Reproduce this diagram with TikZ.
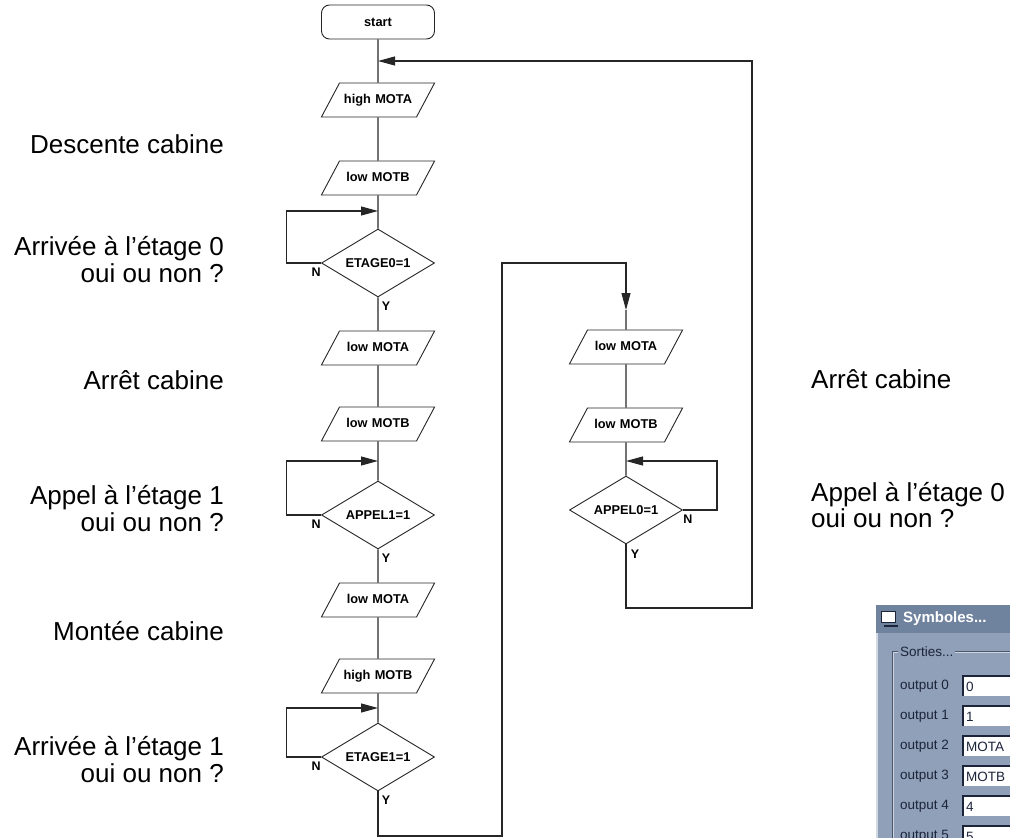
\documentclass[tikz,border=0pt]{standalone}
\usepackage{fontspec}
\setmainfont{Liberation Sans}
\usetikzlibrary{shapes.geometric,arrows.meta}

\definecolor{panelblue}{RGB}{143,160,184}
\definecolor{paneltitle}{RGB}{112,131,158}
\definecolor{panelink}{RGB}{28,36,58}

\begin{document}
\begin{tikzpicture}[x=1pt,y=-1pt,
  flowline/.style={draw=black!85,line width=1.1pt},
  flowarrow/.style={flowline,-{Triangle[length=17pt,width=9pt]}},
  shapebox/.style={draw=black!85,line width=0.9pt,fill=white,font=\fontsize{12.8}{14}\selectfont\bfseries,inner sep=0pt},
  startnode/.style={shapebox,rectangle,rounded corners=8pt,minimum width=113pt,minimum height=34pt},
  ionode/.style={shapebox,trapezium,trapezium left angle=62,trapezium right angle=118,text width=77pt,align=center,text height=9pt,text depth=3pt,inner ysep=11pt},
  decisionnode/.style={shapebox,diamond,aspect=1.66,minimum width=113pt,minimum height=68pt},
  ynlabel/.style={font=\fontsize{12.5}{14}\selectfont\bfseries,inner sep=0pt},
  sidetext/.style={font=\fontsize{26}{26.5}\selectfont,inner sep=0pt},
  paneltext/.style={font=\fontsize{13.5}{15}\selectfont,text=panelink,inner sep=0pt,anchor=west}]
  \useasboundingbox (0,0) rectangle (1010,838);

  % flowchart, left column
  \node[startnode] (start) at (378,22) {start};
  \node[ionode] (hiA) at (378,100) {high MOTA};
  \node[ionode] (loB) at (378,178) {low MOTB};
  \node[decisionnode] (et0) at (378,263) {ETAGE0=1};
  \node[ionode] (loA) at (378,348) {low MOTA};
  \node[ionode] (loB2) at (378,424) {low MOTB};
  \node[decisionnode] (ap1) at (378,515) {APPEL1=1};
  \node[ionode] (loA2) at (378,600) {low MOTA};
  \node[ionode] (hiB) at (378,676) {high MOTB};
  \node[decisionnode] (et1) at (378,757) {ETAGE1=1};
  % right column
  \node[ionode] (rloA) at (626,347) {low MOTA};
  \node[ionode] (rloB) at (626,425) {low MOTB};
  \node[decisionnode] (ap0) at (626,510) {APPEL0=1};

  \coordinate (jTop) at (378,61);
  \coordinate (j0) at (378,211);
  \coordinate (j1) at (378,461);
  \coordinate (j2) at (378,708);
  \coordinate (jR) at (626,461);
  \coordinate (jIn) at (626,310);
  \coordinate (b0) at (502,836);
  \coordinate (b1) at (502,263);
  \coordinate (c0) at (752,608);

  \draw[flowline] (start) -- (hiA) -- (loB) -- (et0) -- (loA) -- (loB2) -- (ap1) -- (loA2) -- (hiB) -- (et1);
  \draw[flowline] (jIn) -- (rloA) -- (rloB) -- (ap0);

  % wait loops
  \draw[flowarrow] (et0.west) -- ++(-35,0) |- (j0);
  \draw[flowarrow] (ap1.west) -- ++(-35,0) |- (j1);
  \draw[flowarrow] (et1.west) -- ++(-35,0) |- (j2);
  \draw[flowarrow] (ap0.east) -- ++(34,0) |- (jR);

  % going over to the other column
  \draw[flowarrow] (et1.south) |- (b0) -- (b1) -| (jIn);
  \draw[flowarrow] (ap0.south) |- (c0) |- (jTop);

  \node[ynlabel] (n0) at ([shift={(-5,9)}]et0.west) {N};
  \node[ynlabel] (y0) at ([shift={(8,9)}]et0.south) {Y};
  \node[ynlabel] (n1) at ([shift={(-5,9)}]ap1.west) {N};
  \node[ynlabel] (y1) at ([shift={(8,9)}]ap1.south) {Y};
  \node[ynlabel] (n2) at ([shift={(-5,9)}]et1.west) {N};
  \node[ynlabel] (y2) at ([shift={(8,9)}]et1.south) {Y};
  \node[ynlabel] (n3) at ([shift={(5,9)}]ap0.east) {N};
  \node[ynlabel] (y3) at ([shift={(9,10)}]ap0.south) {Y};

  % comments
  \node[sidetext,anchor=base east] (t1) at (224,153) {Descente cabine};
  \node[sidetext,anchor=base east,align=right] (t2) at (224,282) {Arrivée à l'étage 0\\oui ou non ?};
  \node[sidetext,anchor=base east] (t3) at (224,389) {Arrêt cabine};
  \node[sidetext,anchor=base east,align=right] (t4) at (224,531) {Appel à l'étage 1\\oui ou non ?};
  \node[sidetext,anchor=base east] (t5) at (224,640) {Montée cabine};
  \node[sidetext,anchor=base east,align=right] (t6) at (224,782) {Arrivée à l'étage 1\\oui ou non ?};
  \node[sidetext,anchor=base west] (t7) at (811,388) {Arrêt cabine};
  \node[sidetext,anchor=base west,align=left] (t8) at (811,527) {Appel à l'étage 0\\[-1pt]oui ou non ?};

  % window of the symbols
  \begin{scope}
    \clip (876,605) rectangle (1010,838);
    \fill[panelblue] (876,605) rectangle (1010,838);
    \fill[paneltitle] (876,605) rectangle (1010,633);
    \draw[white!60!panelblue,line width=1.5pt] (877,633) -- (877,838);
    \fill[white] (881,611) rectangle (895,622);
    \draw[panelink,line width=1pt] (881,611) rectangle (895,622);
    \draw[panelink,line width=1.5pt] (884,626) -- (898,626);
    \node[paneltext,font=\fontsize{15}{16}\selectfont\bfseries,text=white] (wtitle) at (903,619) {Symboles...};
    \draw[white!55!panelblue,line width=1pt] (893,652) rectangle (1030,900);
    \draw[panelink!60!panelblue,line width=1pt] (892,651) rectangle (1029,899);
    \node[paneltext,fill=panelblue,inner xsep=2pt] (wgroup) at (898,652) {Sorties...};
    \foreach \i/\v in {0/0,1/1,2/MOTA,3/MOTB,4/4,5/5}{
      \node[paneltext] (lab\i) at (900,{686+30*\i}) {output \i};
      \fill[white] (963,{676+30*\i}) rectangle (1015,{696+30*\i});
      \draw[panelink,line width=1.5pt] (963,{696+30*\i}) -- (963,{676+30*\i}) -- (1015,{676+30*\i});
      \node[paneltext] (val\i) at (966,{687+30*\i}) {\v};
    }
  \end{scope}
\end{tikzpicture}
\end{document}
